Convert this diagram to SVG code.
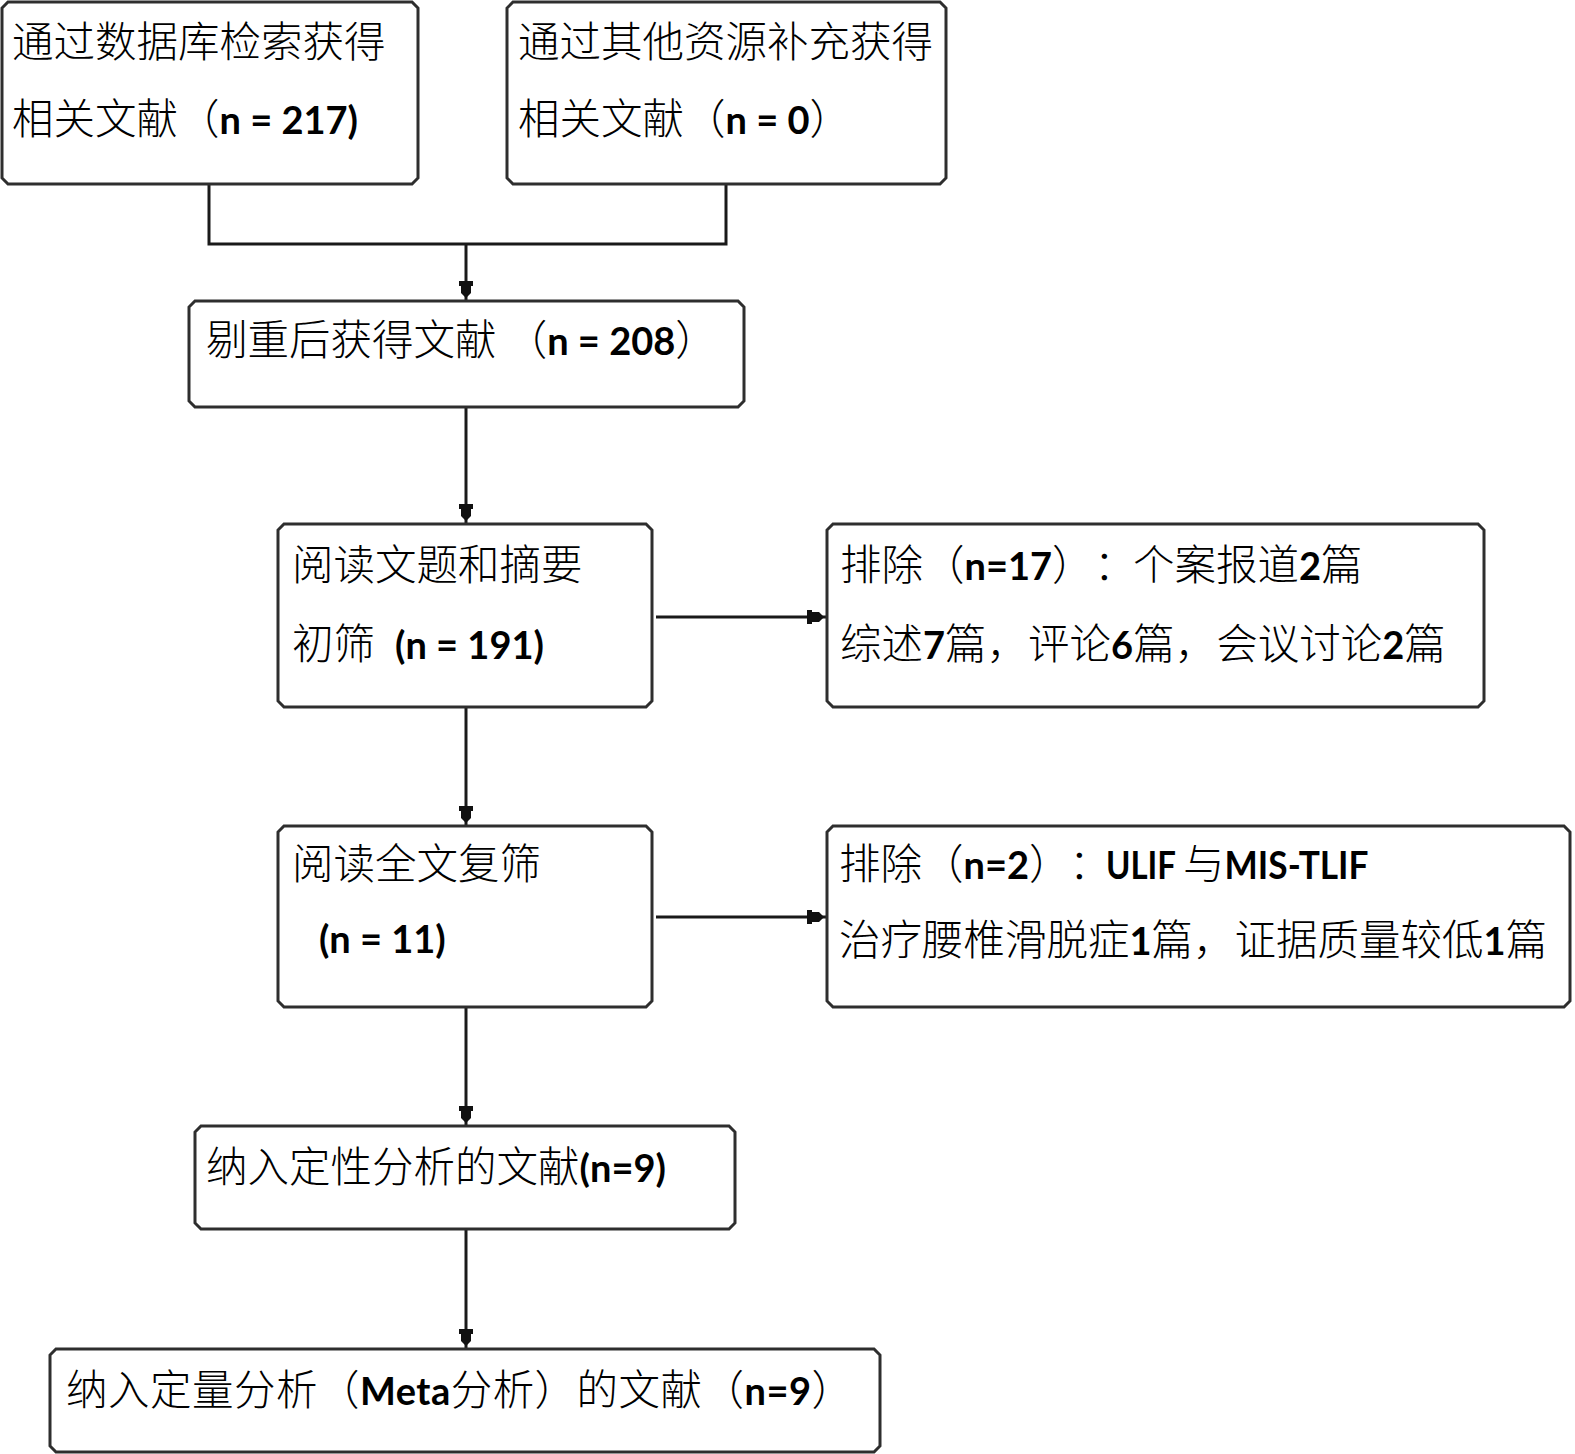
<svg xmlns="http://www.w3.org/2000/svg" width="1575" height="1454" viewBox="0 0 1575 1454">
<defs>
<style>
.box{fill:#fff;stroke:#2e2e2e;stroke-width:3;stroke-linejoin:miter}
.cn{font-family:"Noto Sans CJK SC","Noto Sans CJK JP",sans-serif;font-weight:300;font-size:41.5px;fill:#000}
.en{font-family:Lato,"Liberation Sans",sans-serif;font-weight:700;font-size:38px}
.conn{fill:none;stroke:#1a1a1a;stroke-width:3}
</style>
<marker id="arr" markerUnits="userSpaceOnUse" viewBox="-25 -10 30 20" markerWidth="30" markerHeight="20" refX="0" refY="0" orient="auto" overflow="visible">
<path d="M-20,-7 H-15 V-5 H-8 L-3,0 L-8,5 H-15 V7 H-20 Z" fill="#111"/>
</marker>
</defs>
<rect width="1575" height="1454" fill="#fff"/>
<g id="connectors">
<path class="conn" d="M209,184 V244 H726 V184"/>
<path class="conn" d="M466,244 V301" marker-end="url(#arr)"/>
<path class="conn" d="M466,407 V524" marker-end="url(#arr)"/>
<path class="conn" d="M466,707 V826" marker-end="url(#arr)"/>
<path class="conn" d="M466,1007 V1126" marker-end="url(#arr)"/>
<path class="conn" d="M466,1229 V1349" marker-end="url(#arr)"/>
<path class="conn" d="M656,617 H827" marker-end="url(#arr)"/>
<path class="conn" d="M656,917 H827" marker-end="url(#arr)"/>
</g>
<g id="n1">
<polygon class="box" points="8,2 412,2 418,8 418,178 412,184 8,184 2,178 2,8"/>
<text class="cn" x="12" y="57">通过数据库检索获得</text>
<text class="cn" x="12" y="134">相关文献（<tspan class="en">n = 217)</tspan></text>
</g>
<g id="n2">
<polygon class="box" points="513,2 940,2 946,8 946,178 940,184 513,184 507,178 507,8"/>
<text class="cn" x="518" y="57">通过其他资源补充获得</text>
<text class="cn" x="518" y="134">相关文献（<tspan class="en">n = 0</tspan>）</text>
</g>
<g id="n3">
<polygon class="box" points="195,301 738,301 744,307 744,401 738,407 195,407 189,401 189,307"/>
<text class="cn" x="206" y="355">剔重后获得文献 （<tspan class="en">n = 208</tspan>）</text>
</g>
<g id="n4">
<polygon class="box" points="284,524 646,524 652,530 652,701 646,707 284,707 278,701 278,530"/>
<text class="cn" x="292" y="580">阅读文题和摘要</text>
<text class="cn" x="292" y="659">初筛<tspan class="en" x="395">(n = 191)</tspan></text>
</g>
<g id="n5">
<polygon class="box" points="833,524 1478,524 1484,530 1484,701 1478,707 833,707 827,701 827,530"/>
<text class="cn" x="840" y="580">排除（<tspan class="en">n=17</tspan>）<tspan x="1094">：</tspan><tspan x="1133">个案报道</tspan><tspan class="en">2</tspan>篇</text>
<text class="cn" x="840" y="659">综述<tspan class="en">7</tspan>篇，评论<tspan class="en">6</tspan>篇，会议讨论<tspan class="en">2</tspan>篇</text>
</g>
<g id="n6">
<polygon class="box" points="284,826 646,826 652,832 652,1001 646,1007 284,1007 278,1001 278,832"/>
<text class="cn" x="292" y="879">阅读全文复筛</text>
<text class="cn" y="953"><tspan class="en" x="319">(n = 11)</tspan></text>
</g>
<g id="n7">
<polygon class="box" points="833,826 1564,826 1570,832 1570,1001 1564,1007 833,1007 827,1001 827,832"/>
<text class="cn" x="839" y="879">排除（<tspan class="en">n=2</tspan>）<tspan x="1069">：</tspan><tspan class="en" x="1106" textLength="70" lengthAdjust="spacingAndGlyphs">ULIF</tspan><tspan x="1183">与</tspan><tspan class="en" textLength="144" lengthAdjust="spacingAndGlyphs">MIS-TLIF</tspan></text>
<text class="cn" x="839" y="955">治疗腰椎滑脱症<tspan class="en">1</tspan>篇，证据质量较低<tspan class="en">1</tspan>篇</text>
</g>
<g id="n8">
<polygon class="box" points="201,1126 729,1126 735,1132 735,1223 729,1229 201,1229 195,1223 195,1132"/>
<text class="cn" x="206" y="1182">纳入定性分析的文献<tspan class="en">(n=9)</tspan></text>
</g>
<g id="n9">
<polygon class="box" points="56,1349 874,1349 880,1355 880,1446 874,1452 56,1452 50,1446 50,1355"/>
<text class="cn" x="66" y="1405" textLength="787" lengthAdjust="spacing">纳入定量分析（<tspan class="en">Meta</tspan>分析）的文献（<tspan class="en">n=9</tspan>）</text>
</g>
</svg>
